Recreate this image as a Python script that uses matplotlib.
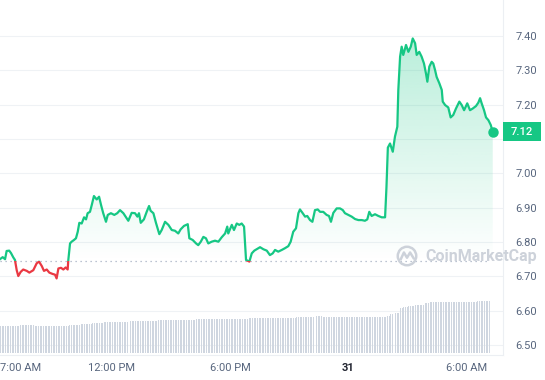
import numpy as np
import matplotlib
matplotlib.use("Agg")
import matplotlib.pyplot as plt
from matplotlib.patches import Polygon, Rectangle, Circle
from matplotlib.transforms import blended_transform_factory, ScaledTranslation


GREEN = "#16c784"
RED = "#ea3943"
TEXT_GREY = "#58667e"
GRID = "#eff2f5"
VOL_COLOR = "#cfd6e0"
MARK_GREY = "#cdd2da"

# hours since midnight of the 30th
hours = [
    6.35, 6.49, 6.61, 6.69, 6.82, 6.91, 7.03, 7.11, 7.20, 7.28, 7.40, 7.53, 7.71, 7.84,
    8.04, 8.21, 8.33, 8.47, 8.58, 8.72, 8.85, 9.02, 9.14, 9.22, 9.31, 9.44, 9.56, 9.68,
    9.78, 9.81, 9.90, 9.98, 10.10, 10.20, 10.29, 10.37, 10.49, 10.61, 10.71, 10.79, 10.91,
    11.00, 11.11, 11.25, 11.37, 11.47, 11.58, 11.72, 11.81, 11.97, 12.14, 12.29,
    12.43, 12.60, 12.85, 13.02, 13.19, 13.31, 13.39, 13.48, 13.64, 13.78, 13.90, 13.98,
    14.12, 14.25, 14.42, 14.54, 14.71, 14.88, 15.05, 15.21, 15.38, 15.50, 15.67, 15.86,
    15.94, 16.11, 16.28, 16.39, 16.52, 16.65, 16.78, 16.90, 17.07, 17.24, 17.41, 17.58,
    17.75, 17.86, 17.91, 18.09, 18.20, 18.34, 18.47, 18.59, 18.71, 18.81, 18.98, 19.10,
    19.23, 19.35, 19.52, 19.69, 19.86, 20.02, 20.16, 20.28, 20.44, 20.62, 20.78, 20.95,
    21.07, 21.20, 21.34, 21.46, 21.54, 21.68, 21.80, 21.91, 22.05, 22.17, 22.30, 22.44,
    22.56, 22.72, 22.89, 23.01, 23.11, 23.23, 23.40, 23.57, 23.71, 23.82, 23.99, 24.16,
    24.33, 24.50, 24.67, 24.83, 24.95, 25.05, 25.17, 25.34, 25.51, 25.68, 25.85, 25.92,
    25.99, 26.10, 26.24, 26.35, 26.47, 26.52, 26.61, 26.69, 26.77, 26.91, 27.03, 27.15,
    27.25, 27.37, 27.45, 27.58, 27.70, 27.82, 27.92, 27.99, 28.09, 28.21, 28.29, 28.38,
    28.46, 28.60, 28.72, 28.77, 28.89, 29.05, 29.17, 29.30, 29.44, 29.61, 29.73, 29.85,
    30.01, 30.15, 30.29, 30.45, 30.57, 30.66, 30.74, 30.86, 30.96, 31.08, 31.20, 31.30,
]

prices = [
    6.750, 6.756, 6.750, 6.774, 6.775, 6.768, 6.755, 6.748, 6.718, 6.701, 6.713, 6.720, 6.716, 6.711,
    6.718, 6.738, 6.743, 6.730, 6.716, 6.720, 6.711, 6.707, 6.705, 6.694, 6.723, 6.725, 6.720, 6.726,
    6.720, 6.746, 6.796, 6.801, 6.806, 6.811, 6.830, 6.856, 6.854, 6.872, 6.866, 6.884, 6.888,
    6.908, 6.934, 6.924, 6.932, 6.908, 6.884, 6.859, 6.879, 6.884, 6.879, 6.884,
    6.893, 6.884, 6.862, 6.885, 6.884, 6.874, 6.884, 6.856, 6.866, 6.888, 6.905, 6.891,
    6.884, 6.856, 6.823, 6.835, 6.859, 6.850, 6.835, 6.833, 6.825, 6.837, 6.847, 6.852,
    6.811, 6.806, 6.796, 6.791, 6.801, 6.815, 6.811, 6.796, 6.801, 6.804, 6.801, 6.814,
    6.825, 6.845, 6.825, 6.850, 6.835, 6.854, 6.850, 6.854, 6.845, 6.748, 6.743, 6.767,
    6.775, 6.779, 6.785, 6.779, 6.775, 6.762, 6.767, 6.777, 6.772, 6.777, 6.782, 6.788,
    6.801, 6.830, 6.840, 6.884, 6.895, 6.884, 6.874, 6.876, 6.864, 6.859, 6.893, 6.895,
    6.888, 6.888, 6.879, 6.876, 6.859, 6.885, 6.898, 6.898, 6.893, 6.884, 6.879, 6.874,
    6.867, 6.864, 6.864, 6.862, 6.866, 6.888, 6.876, 6.881, 6.876, 6.872, 6.872, 6.960,
    7.075, 7.087, 7.063, 7.107, 7.136, 7.243, 7.340, 7.369, 7.345, 7.374, 7.354, 7.369,
    7.393, 7.379, 7.345, 7.354, 7.340, 7.320, 7.291, 7.267, 7.311, 7.325, 7.320, 7.301,
    7.281, 7.262, 7.243, 7.209, 7.199, 7.192, 7.163, 7.170, 7.189, 7.209, 7.199, 7.184,
    7.204, 7.184, 7.189, 7.196, 7.206, 7.219, 7.204, 7.184, 7.163, 7.155, 7.141, 7.121,
]

open_price = 6.745

# 24h volume (relative units), 5-minute bars, as runs of equal height
vol_levels = [27.3, 28.0, 27.3, 28.3, 29.3, 30.3, 31.3, 32.3, 33.3, 34.3, 35.3, 36.3,
              37.0, 36.0, 37.3, 39.0, 40.0, 44.7, 45.7, 46.7, 48.0, 49.7, 51.3, 52.3]
vol_counts = [12, 9, 21, 7, 7, 7, 15, 18, 23, 32, 29, 12,
              4, 39, 2, 3, 3, 2, 3, 4, 6, 3, 29, 8]
vol_start = 6.36
vol_step = 5 / 60

tick_hours = [7, 12, 18, 24, 30]
tick_labels = ["7:00 AM", "12:00 PM", "6:00 PM", "31", "6:00 AM"]
price_ticks = [6.50, 6.60, 6.70, 6.80, 6.90, 7.00, 7.10, 7.20, 7.30, 7.40]


plt.rcParams["font.family"] = ["Roboto", "DejaVu Sans"]

fig = plt.figure(figsize=(5.45, 3.8), dpi=100)
rect = [0, 25 / 380, 503 / 545, 355 / 380]
ax = fig.add_axes(rect)
ax_v = fig.add_axes(rect, sharex=ax)

x0, x1 = 6.354, 31.82
y0, y1 = 6.471, 7.505

t = np.array(hours)
p = np.array(prices)

# gradient fill between the line and the opening price
top = price_ticks[-1]
n = 256
grad = np.zeros((n, 1, 4))
grad[:, 0, :3] = matplotlib.colors.to_rgb(GREEN)
grad[:, 0, 3] = np.linspace(0, 0.3, n)
im = ax.imshow(grad, extent=[t[0], t[-1], open_price, top], origin="lower",
               aspect="auto", interpolation="bilinear", zorder=2)
verts = np.column_stack([np.r_[t, t[-1], t[0]],
                         np.r_[np.maximum(p, open_price), open_price, open_price]])
im.set_clip_path(Polygon(verts, closed=True, transform=ax.transData))
ax.set_xlim(x0, x1)
ax.set_ylim(y0, y1)

# price line, green above / red below the opening price
green_line, = ax.plot(t, p, color=GREEN, lw=1.6, zorder=4, solid_joinstyle="round")
green_line.set_clip_path(Rectangle((x0, open_price), x1 - x0, 5, transform=ax.transData))
red_line, = ax.plot(t, p, color=RED, lw=1.6, zorder=4, solid_joinstyle="round")
red_line.set_clip_path(Rectangle((x0, open_price - 5), x1 - x0, 5, transform=ax.transData))
ax.plot(t[-1], p[-1], "o", ms=6.5, color=GREEN, zorder=5)

ax.axhline(open_price, xmax=0.975, color="#a6b0c3", lw=0.9, ls=(0, (1, 3)), zorder=3)

# the 7.10 label sits under the last-price badge
price_labels = ["" if abs(v - 7.10) < 1e-9 else f"{v:.2f}" for v in price_ticks]
ax.set_yticks(price_ticks, price_labels)
ax.yaxis.tick_right()
ax.grid(axis="y", color=GRID, lw=0.8)
ax.set_axisbelow(True)
ax.tick_params(axis="y", length=0, pad=9, labelsize=8, labelcolor=TEXT_GREY)
ax.tick_params(axis="x", length=0, pad=6, labelsize=8, labelcolor=TEXT_GREY)
ax.set_xticks(tick_hours, tick_labels)
for side in ["top", "left"]:
    ax.spines[side].set_visible(False)
for side in ["right", "bottom"]:
    ax.spines[side].set_color("#eceff3")
    ax.spines[side].set_linewidth(0.8)

labels = ax.get_xticklabels()
labels[3].set_fontweight("bold")
labels[3].set_color("#222531")
labels[0].set_transform(labels[0].get_transform()
                        + ScaledTranslation(0.08, 0, fig.dpi_scale_trans))

# volume bars
vol = np.repeat(vol_levels, vol_counts)
vol_t = vol_start + vol_step * np.arange(len(vol))
ax_v.bar(vol_t, vol, width=vol_step * 0.6, color=VOL_COLOR, align="edge")
ax_v.set_ylim(-2, 353)
ax_v.axis("off")
ax_v.patch.set_visible(False)

# last price badge
trans = blended_transform_factory(ax.transAxes, ax.transData)
ax.add_patch(Rectangle((1.0, p[-1] - 0.0277), 0.0755, 0.0553, transform=trans,
                       fc=GREEN, ec="none", clip_on=False, zorder=6))
ax.text(1.0378, p[-1], f"{p[-1]:.2f}", transform=trans, ha="center", va="center",
        color="white", fontsize=8, fontweight="medium", zorder=7, clip_on=False)

# watermark
ax.text(425 / 503, 99 / 355, "CoinMarketCap", transform=ax.transAxes, ha="left",
        va="center", fontsize=11.5, fontweight="bold", color=MARK_GREY,
        clip_on=False, zorder=3)
logo = fig.add_axes([396 / 545, 113 / 380, 22 / 545, 22 / 380])
logo.set_xlim(0, 1)
logo.set_ylim(0, 1)
logo.axis("off")
logo.add_patch(Circle((0.5, 0.5), 0.42, fill=False, lw=1.8, ec=MARK_GREY))
logo.plot([0.22, 0.36, 0.5, 0.64, 0.8], [0.36, 0.66, 0.42, 0.66, 0.4],
          color=MARK_GREY, lw=1.8, solid_joinstyle="round")

fig.savefig("out.png", dpi=100)
